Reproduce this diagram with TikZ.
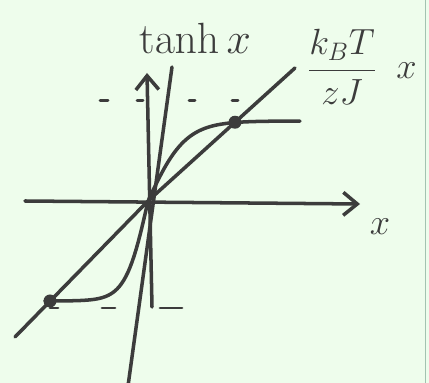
\documentclass[tikz,border=0pt]{standalone}
\usepackage{tikz}
\usetikzlibrary{arrows.meta, positioning}
\definecolor{paper}{HTML}{EEFDEC}
\definecolor{ink}{HTML}{3C3C3C}
\definecolor{edgeline}{HTML}{A3C2B0}

\begin{document}
\begin{tikzpicture}[>={Straight Barb[length=2.8mm,width=4.6mm]},
    pen/.style={draw=ink, line width=2pt, line cap=round, line join=round},
    tick/.style={draw=ink, line width=1.7pt, line cap=round},
    lbl/.style={text=ink, font=\fontsize{20}{24}\selectfont}]
  \fill[paper] (-2.96,-3.64) rectangle (5.62,4.02);
  \useasboundingbox (-2.96,-3.64) rectangle (5.62,4.02);
  \draw[edgeline, line width=0.8pt] (5.55,4.02) -- (5.55,-3.64);
  % axes
  \coordinate (o) at (0,0);
  \draw[pen, ->] (-2.46,0) -- (4.24,-0.06);
  \draw[pen, ->] (0.08,-2.12) -- (-0.02,2.56);
  % dashes at +-1
  \foreach \a/\w in {-0.96/0.16, -0.22/0.12, 0.82/0.12, 1.68/0.12}
    \draw[tick] (\a,2.0) -- ++(\w,0);
  \foreach \a/\w in {-1.96/0.16, -0.92/0.26, 0.24/0.44}
    \draw[tick] (\a,-2.14) -- ++(\w,0);
  % lines and curve
  \draw[pen] (-0.4,-3.7) -- (0.48,2.68);
  \draw[pen] (-2.66,-2.72) -- (o) -- (2.94,2.66);
  \draw[pen] plot[domain=-2.06:3.04, samples=121]
    ({\x}, {(\x<0 ? 2.0*tanh(\x/0.45) : 1.6*tanh(\x/0.75))});
  \fill[ink] (1.74,1.575) circle (0.13);
  \fill[ink] (-1.96,-2.0) circle (0.13);
  % labels
  \node[lbl, font=\fontsize{24}{28}\selectfont] (tanhlbl) at (0.94,3.26) {$\tanh x$};
  \node[lbl] (ratio) at (3.88,2.68) {$\displaystyle\frac{k_B T}{zJ}$};
  \node[lbl, right=4pt of ratio, yshift=-2pt] (ratiox) {$x$};
  \node[lbl] (xlbl) at (4.64,-0.52) {$x$};
\end{tikzpicture}
\end{document}
